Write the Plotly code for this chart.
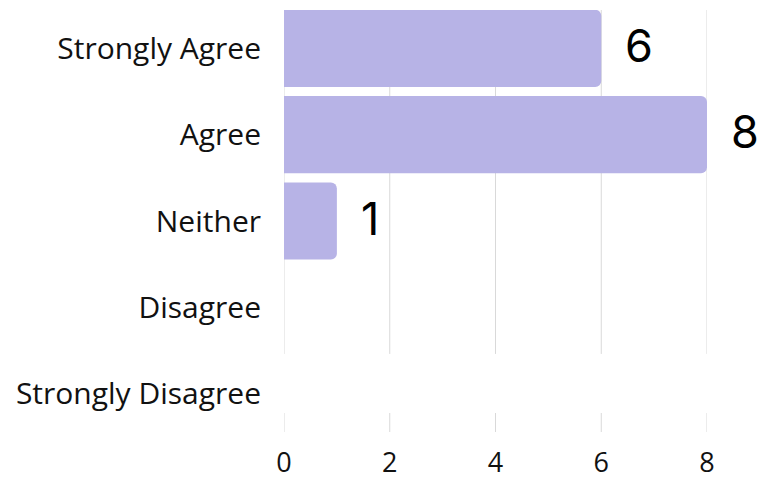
import plotly.graph_objects as go

categories = ["Strongly Agree", "Agree", "Neither", "Disagree", "Strongly Disagree"]
values = [6, 8, 1, 0, 0]
x_ticks = [0, 2, 4, 6, 8]

BAR_COLOR = "#b7b3e6"
TEXT_COLOR = "#111111"
GRID_COLOR = "#d9d9d9"
TICK_FONT = "Open Sans"
VALUE_FONT = "Inter"

fig = go.Figure(
    go.Bar(
        x=values,
        y=categories,
        orientation="h",
        marker=dict(color=BAR_COLOR, line=dict(width=0), cornerradius=6),
        hoverinfo="skip",
    )
)

annotations = []
for c, v in zip(categories, values):
    if v > 0:
        annotations.append(
            dict(
                x=v, y=c, xref="x", yref="y", text=str(v),
                showarrow=False, xanchor="left", yanchor="middle",
                xshift=22, yshift=3,
                font=dict(family=VALUE_FONT, size=45, color="#000000"),
            )
        )

# vertical grid lines (with the gap seen in the reference)
shapes = []
for t in x_ticks:
    for y0, y1 in [(0.185, 1.0), (0.0, 0.045)]:
        shapes.append(
            dict(type="line", xref="x", yref="paper", x0=t, x1=t, y0=y0, y1=y1,
                 line=dict(color=GRID_COLOR, width=1), layer="below")
        )

fig.update_layout(
    width=763,
    height=480,
    margin=dict(l=284, r=56, t=10, b=48, autoexpand=False),
    paper_bgcolor="white",
    plot_bgcolor="white",
    bargap=0.105,
    showlegend=False,
    annotations=annotations,
    shapes=shapes,
)

fig.update_xaxes(
    range=[0, 8],
    tickvals=x_ticks,
    ticktext=[str(t) for t in x_ticks],
    showgrid=False,
    zeroline=False,
    showline=False,
    ticks="",
    automargin=False,
    ticklabelstandoff=12,
    tickfont=dict(family=TICK_FONT, size=27, color=TEXT_COLOR),
)

fig.update_yaxes(
    categoryorder="array",
    categoryarray=categories,
    range=[4.445, -0.445],
    showgrid=False,
    zeroline=False,
    showline=False,
    ticks="",
    automargin=False,
    ticklabelstandoff=22,
    tickfont=dict(family=TICK_FONT, size=30, color=TEXT_COLOR),
)

fig.write_html(
    "out.html",
    config={"displayModeBar": False},
    post_script="document.body.style.margin='0';document.body.style.overflow='hidden';",
)
